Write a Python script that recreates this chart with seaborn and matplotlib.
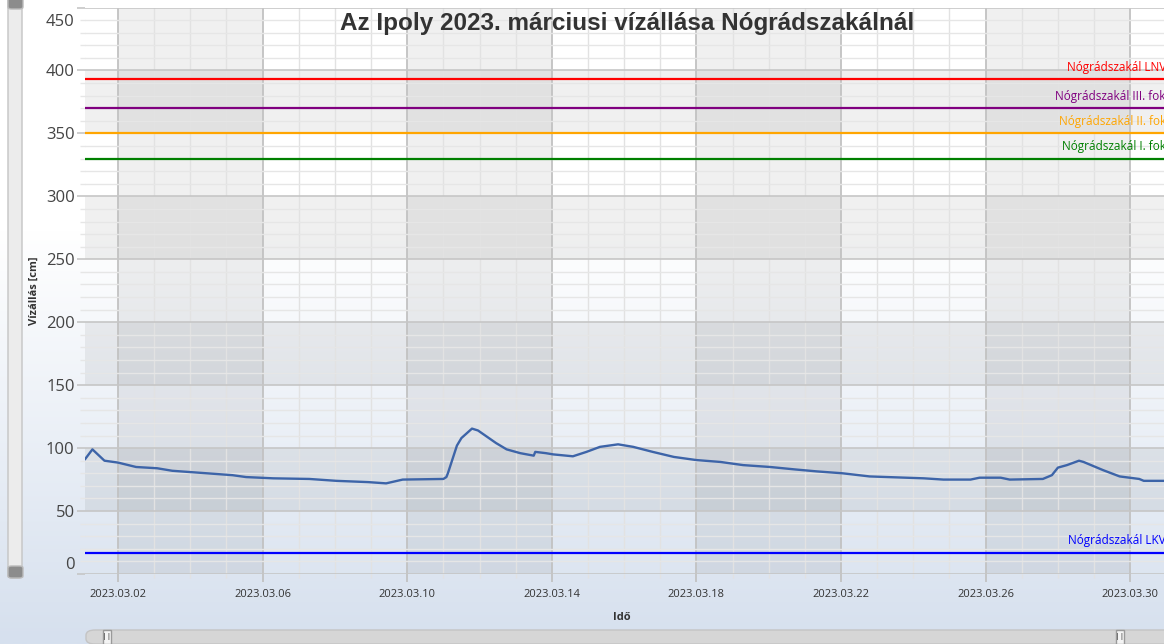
import numpy as np
import pandas as pd
import seaborn as sns
import matplotlib.pyplot as plt
import matplotlib.dates as mdates
import matplotlib.transforms as mtransforms
from matplotlib.patches import FancyBboxPatch
from matplotlib.colors import LinearSegmentedColormap

# Vízállás adatok (leolvasva)
times = ["2023-03-01 02:00", "2023-03-01 07:00", "2023-03-01 15:00", "2023-03-02 00:00",
         "2023-03-02 12:00", "2023-03-03 02:00", "2023-03-03 12:00", "2023-03-04 11:00",
         "2023-03-05 04:00", "2023-03-05 13:00", "2023-03-06 07:00", "2023-03-07 07:00",
         "2023-03-08 01:00", "2023-03-08 22:00", "2023-03-09 10:00", "2023-03-09 21:00",
         "2023-03-11 00:00", "2023-03-11 02:00", "2023-03-11 03:00", "2023-03-11 09:00",
         "2023-03-11 12:00", "2023-03-11 19:00", "2023-03-11 23:00", "2023-03-12 11:00",
         "2023-03-12 18:00", "2023-03-13 03:00", "2023-03-13 12:00", "2023-03-13 13:00",
         "2023-03-13 20:00", "2023-03-14 01:00", "2023-03-14 14:00", "2023-03-14 23:00",
         "2023-03-15 08:00", "2023-03-15 20:00", "2023-03-16 06:00", "2023-03-16 19:00",
         "2023-03-17 09:00", "2023-03-18 00:00", "2023-03-18 16:00", "2023-03-19 07:00",
         "2023-03-20 01:00", "2023-03-20 18:00", "2023-03-21 08:00", "2023-03-22 01:00",
         "2023-03-22 19:00", "2023-03-24 07:00", "2023-03-24 20:00", "2023-03-25 14:00",
         "2023-03-25 20:00", "2023-03-26 10:00", "2023-03-26 16:00", "2023-03-27 14:00",
         "2023-03-27 20:00", "2023-03-28 00:00", "2023-03-28 06:00", "2023-03-28 14:00",
         "2023-03-28 17:00", "2023-03-28 23:00", "2023-03-29 06:00", "2023-03-29 17:00",
         "2023-03-30 06:00", "2023-03-30 09:00", "2023-03-31 02:00"]
levels = [91, 99, 90, 88.5,
          85, 84, 82, 80,
          78.5, 77, 76, 75.5,
          74, 73, 72, 75,
          75.5, 77, 80, 102,
          108, 115.5, 114, 104,
          99, 96, 94, 97,
          96, 95, 93.5, 97,
          101, 103, 101, 97,
          93, 90.5, 89, 86.5,
          85, 83, 81.5, 80,
          77.5, 76, 75, 75,
          76.5, 76.5, 75, 75.5,
          78.5, 84.5, 86.5, 90,
          89, 86, 82.5, 77.5,
          75.5, 74, 74]

# Küszöbértékek
thr_names = ["Nógrádszakál LNV", "Nógrádszakál III. fok", "Nógrádszakál II. fok",
             "Nógrádszakál I. fok", "Nógrádszakál LKV"]
thr_values = [393, 370, 350, 330, 17]
thr_colors = ["#ff0000", "#800080", "#ffa500", "#008000", "#0000ff"]

df = pd.DataFrame({"Idő": pd.to_datetime(times), "Vízállás": levels})

sns.set_theme(style="white")
plt.rcParams['font.family'] = ['Open Sans', 'DejaVu Sans']

W, H = 1164, 644
fig = plt.figure(figsize=(W / 100, H / 100), dpi=100)

def px(x0, y0, x1, y1):
    # pixel (felülről) -> figure koordináta
    return [x0 / W, 1 - y1 / H, (x1 - x0) / W, (y1 - y0) / H]

# Háttér színátmenet
bg = fig.add_axes([0, 0, 1, 1], zorder=-10)
grad = np.clip((np.linspace(0, H, 400) - 230) / (H - 230), 0, 1)[:, None]
cmap = LinearSegmentedColormap.from_list("bg", ["#ffffff", "#d6e0ee"])
bg.imshow(grad, aspect='auto', cmap=cmap, extent=[0, 1, 0, 1], origin='upper', vmin=0, vmax=1)
bg.axis('off')

ax = fig.add_axes(px(85, 7.5, 1170, 574))
ax.set_facecolor('none')

xmin = pd.Timestamp("2023-03-01 02:05")
xmax = pd.Timestamp("2023-03-31 02:25")
ax.set_xlim(xmin, xmax)
ax.set_ylim(0, 450)

# Sávos háttér
major_days = pd.date_range("2023-03-02", "2023-03-30", freq="4D")
for i in range(0, len(major_days) - 1, 2):
    ax.axvspan(major_days[i], major_days[i + 1], color='black', alpha=0.06, lw=0, zorder=0)
for y0 in range(50, 450, 100):
    ax.axhspan(y0, y0 + 50, color='black', alpha=0.06, lw=0, zorder=0)

# Rács
ax.xaxis.set_major_locator(mdates.DayLocator(bymonthday=list(range(2, 31, 4))))
ax.xaxis.set_minor_locator(mdates.DayLocator())
ax.xaxis.set_major_formatter(mdates.DateFormatter("%Y.%m.%d"))
ax.set_yticks(range(0, 451, 50))
ax.set_yticks(range(0, 451, 10), minor=True)
ax.grid(which='major', axis='x', color='#c2c2c2', lw=1.3)
ax.grid(which='minor', axis='x', color='#e2e2e2', lw=1.0)
ax.grid(which='major', axis='y', color='#c6c6c6', lw=1.2)
ax.grid(which='minor', axis='y', color='#e6e6e6', lw=1.0)
ax.set_axisbelow(True)
for s in ax.spines.values():
    s.set_visible(False)

ax.tick_params(axis='x', which='major', length=6, width=1.3, color='#c2c2c2', pad=5,
               labelsize=8, labelcolor='#333333', bottom=True)
ax.tick_params(axis='x', which='minor', length=3, width=1.0, color='#e2e2e2', bottom=True)
ax.tick_params(axis='y', which='major', length=6, width=1.2, color='#c6c6c6', pad=1.5,
               labelsize=12, labelcolor='#444444', left=True)
ax.tick_params(axis='y', which='minor', length=3.5, width=1.0, color='#e6e6e6', left=True)

# Küszöbvonalak
for name, val, col in zip(thr_names, thr_values, thr_colors):
    ax.axhline(val, color=col, lw=1.6, zorder=2)
    ax.annotate(name, xy=(1, val), xycoords=ax.get_yaxis_transform(),
                xytext=(-3, 4), textcoords='offset points', ha='right', va='bottom',
                fontsize=8.5, color=col, zorder=3)

sns.lineplot(data=df, x="Idő", y="Vízállás", ax=ax, color='#3d64a8', lw=1.7, zorder=4)

ax.set_xlabel("Idő", fontsize=8, fontweight='bold', color='#333333')
ax.set_ylabel("Vízállás [cm]", fontsize=8, fontweight='bold', color='#333333')
ax.xaxis.set_label_coords(0.4945, -0.067)
ax.yaxis.set_label_coords(-0.0415, 0.5)

ax.text(0.4995, 1 - 16 / 566.5, "Az Ipoly 2023. márciusi vízállása Nógrádszakálnál",
        transform=ax.transAxes, ha='center', va='center', fontsize=17.5,
        fontweight='bold', color='#333333', family=['Liberation Sans', 'DejaVu Sans'])

# A szélső címkék beljebb tolása
yt = ax.yaxis.get_major_ticks()
yt[0].label1.set_transform(yt[0].label1.get_transform() +
                           mtransforms.ScaledTranslation(0, 11 / 100, fig.dpi_scale_trans))
yt[-1].label1.set_transform(yt[-1].label1.get_transform() +
                            mtransforms.ScaledTranslation(0, -12 / 100, fig.dpi_scale_trans))

# Görgetősávok
fig.patches.append(FancyBboxPatch((8 / W, 1 - 578 / H), 14 / W, 585 / H,
                                  boxstyle="round,pad=0,rounding_size=0.004",
                                  transform=fig.transFigure, fc='#ececec', ec='#c4c4c4', lw=1))
for y0 in [-3, 566]:
    fig.patches.append(FancyBboxPatch((8 / W, 1 - (y0 + 12) / H), 15 / W, 12 / H,
                                      boxstyle="round,pad=0,rounding_size=0.003",
                                      transform=fig.transFigure, fc='#8c8c8c', ec='#bbbbbb', lw=1))
fig.patches.append(FancyBboxPatch((86 / W, 0), 1100 / W, 14 / H,
                                  boxstyle="round,pad=0,rounding_size=0.008",
                                  transform=fig.transFigure, fc='#d6d6d6', ec='#c4c4c4', lw=1))
for x0 in [103, 1116]:
    fig.patches.append(FancyBboxPatch((x0 / W, 0), 8 / W, 14 / H,
                                      boxstyle="square,pad=0",
                                      transform=fig.transFigure, fc='#f4f4f4', ec='#9a9a9a', lw=1))
    fig.text((x0 + 4) / W, 7 / H, "||", ha='center', va='center', fontsize=6, color='#333333')

fig.savefig("out.png", dpi=100)
